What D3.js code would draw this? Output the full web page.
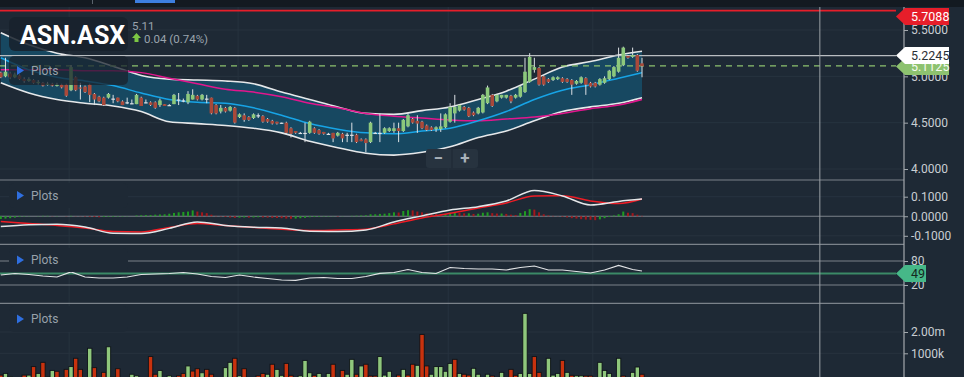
<!DOCTYPE html>
<html>
<head>
<meta charset="utf-8">
<script src="https://cdn.jsdelivr.net/npm/d3@7"></script>
<style>
  html, body { margin:0; padding:0; background:#1e2935; overflow:hidden; }
  svg { display:block; font-family: Roboto, "Noto Sans", sans-serif; }
</style>
</head>
<body>
<div id="chart"></div>
<script>
// ASN.ASX – candles + bands, MACD, RSI, volume

// [open, high, low, close] per session
const ohlc = [
  [5.04,5.05,4.98,4.99],[5.00,5.20,4.99,5.05],[5.03,5.05,4.97,4.99],[4.99,5.04,4.98,5.02],[5.01,5.02,4.96,4.97],
  [4.97,4.99,4.93,4.95],[4.95,4.99,4.94,4.97],[4.96,4.97,4.92,4.93],[4.93,4.96,4.91,4.94],[4.93,4.94,4.89,4.90],
  [4.91,4.94,4.90,4.92],[4.92,4.93,4.89,4.90],[4.90,4.93,4.89,4.91],[4.91,4.92,4.87,4.88],[4.91,4.92,4.78,4.79],
  [4.85,5.12,4.84,5.10],[4.99,5.00,4.84,4.85],[4.88,4.93,4.75,4.87],[4.89,4.90,4.82,4.83],[4.91,4.92,4.72,4.80],
  [4.81,4.82,4.69,4.75],[4.78,4.79,4.72,4.73],[4.77,4.78,4.68,4.69],[4.77,4.82,4.76,4.81],[4.76,4.80,4.71,4.76],
  [4.77,4.77,4.72,4.73],[4.73,4.74,4.69,4.69],[4.72,4.77,4.70,4.72],[4.71,4.75,4.70,4.71],[4.70,4.81,4.70,4.80],
  [4.77,4.78,4.68,4.68],[4.72,4.75,4.71,4.72],[4.72,4.73,4.68,4.69],[4.72,4.73,4.65,4.66],[4.69,4.76,4.67,4.74],
  [4.70,4.70,4.68,4.68],[4.69,4.70,4.68,4.69],[4.70,4.81,4.70,4.80],[4.75,4.82,4.69,4.75],[4.74,4.76,4.72,4.74],
  [4.72,4.84,4.70,4.81],[4.75,4.86,4.75,4.80],[4.79,4.80,4.74,4.75],[4.75,4.81,4.74,4.80],[4.76,4.80,4.71,4.76],
  [4.77,4.77,4.59,4.60],[4.69,4.70,4.59,4.60],[4.62,4.69,4.60,4.66],[4.66,4.67,4.61,4.62],[4.63,4.68,4.62,4.67],
  [4.66,4.67,4.49,4.50],[4.56,4.60,4.55,4.59],[4.58,4.60,4.51,4.53],[4.56,4.57,4.52,4.53],[4.55,4.60,4.54,4.59],
  [4.58,4.60,4.55,4.58],[4.57,4.58,4.50,4.51],[4.54,4.55,4.50,4.51],[4.52,4.53,4.48,4.49],[4.51,4.51,4.48,4.49],
  [4.50,4.50,4.49,4.50],[4.50,4.51,4.38,4.39],[4.44,4.45,4.34,4.38],[4.41,4.41,4.38,4.39],[4.39,4.40,4.38,4.39],
  [4.39,4.50,4.29,4.39],[4.39,4.52,4.38,4.51],[4.44,4.45,4.38,4.39],[4.42,4.43,4.37,4.38],[4.40,4.40,4.37,4.38],
  [4.38,4.39,4.37,4.38],[4.39,4.39,4.29,4.33],[4.36,4.40,4.35,4.39],[4.38,4.39,4.29,4.33],[4.37,4.39,4.29,4.37],
  [4.37,4.50,4.29,4.37],[4.37,4.38,4.28,4.29],[4.32,4.33,4.30,4.30],[4.32,4.33,4.18,4.28],[4.29,4.51,4.28,4.50],
  [4.39,4.40,4.38,4.39],[4.39,4.60,4.29,4.39],[4.39,4.45,4.38,4.44],[4.41,4.45,4.40,4.44],[4.41,4.50,4.39,4.44],
  [4.44,4.50,4.29,4.41],[4.41,4.54,4.40,4.53],[4.46,4.60,4.45,4.58],[4.54,4.55,4.49,4.50],[4.52,4.58,4.39,4.49],
  [4.51,4.52,4.43,4.44],[4.47,4.48,4.41,4.42],[4.45,4.46,4.41,4.42],[4.43,4.46,4.40,4.45],[4.43,4.60,4.40,4.46],
  [4.45,4.60,4.44,4.59],[4.51,4.71,4.50,4.67],[4.60,4.80,4.50,4.67],[4.63,4.70,4.62,4.69],[4.67,4.68,4.63,4.64],
  [4.66,4.67,4.56,4.57],[4.61,4.62,4.57,4.58],[4.60,4.67,4.59,4.66],[4.61,4.81,4.60,4.80],[4.71,4.90,4.70,4.88],
  [4.80,4.81,4.67,4.68],[4.73,4.81,4.72,4.80],[4.77,4.80,4.76,4.80],[4.77,4.80,4.76,4.80],[4.79,4.80,4.71,4.73],
  [4.77,4.81,4.76,4.80],[4.78,4.90,4.77,4.89],[4.83,5.20,4.82,5.05],[4.94,5.25,4.93,5.21],[5.07,5.20,5.04,5.10],
  [5.09,5.10,4.90,4.91],[5.00,5.01,4.90,4.91],[4.97,4.98,4.93,4.94],[4.96,5.00,4.95,4.99],[4.97,5.00,4.96,4.99],
  [4.98,4.99,4.93,4.94],[4.97,4.98,4.93,4.94],[4.96,4.97,4.80,4.91],[4.92,4.96,4.91,4.95],[4.93,5.00,4.92,4.99],
  [4.98,4.99,4.80,4.91],[4.93,4.94,4.88,4.89],[4.93,4.94,4.88,4.89],[4.91,4.98,4.90,4.97],[4.93,5.00,4.92,4.98],
  [4.97,5.07,4.96,5.06],[5.00,5.11,4.99,5.10],[5.05,5.31,5.04,5.20],[5.12,5.32,5.11,5.31],[5.22,5.23,5.19,5.20],
  [5.21,5.31,5.20,5.23],[5.23,5.24,5.05,5.06],[5.14,5.20,4.99,5.11]
];

// volume in millions, and up/down flag per bar
const volume = [
  0.23,0.31,0.15,0.10,0.10,0.23,0.23,0.63,0.31,0.83, 0.15,0.45,0.41,0.10,0.50,0.63,1.02,0.50,0.10,1.49,
  0.58,0.10,0.36,1.56,0.15,0.53,0.10,0.10,0.27,0.20, 0.10,0.10,1.10,0.27,0.45,0.10,0.20,0.10,0.20,0.31,
  0.66,0.42,0.53,0.34,0.50,0.27,0.10,0.10,0.58,0.83, 1.02,0.20,0.53,0.10,0.10,0.20,0.31,0.27,0.74,0.50,
  0.22,0.78,0.22,0.10,0.20,0.92,0.34,0.22,0.31,0.10, 0.31,0.74,0.10,0.45,0.27,0.97,0.27,0.66,0.74,0.19,
  0.19,1.10,0.23,0.41,0.10,0.23,0.50,0.23,0.74,0.69, 2.14,0.66,0.27,0.63,0.63,0.41,0.78,0.97,0.31,0.27,
  0.23,0.55,0.27,0.10,0.27,0.19,0.10,0.36,0.10,0.50, 0.22,0.31,3.13,0.31,1.10,0.36,0.10,1.02,0.23,0.31,
  0.92,0.36,0.22,0.20,0.20,0.19,0.19,0.10,0.83,0.45, 0.31,0.10,1.02,0.19,0.10,0.36,0.61,0.27
];
const volDir = "duuuududud" + "uudddudddu" + "ddduudduuu" + "uddduuuudd" + "uddudddduu" +
               "dudddddudu" + "uddduuuduu" + "uddduududd" + "duuuududdu" + "dduuuuudud" +
               "duuuuduuud" + "duuuddduuu" + "duduuddduu" + "uuudduud";

// overlays sampled at these session indexes
const bandIdx = [0,6,12,18,24,30,36,42,48,54,60,66,72,78,84,90,96,102,108,114,120,126,132,137];
const bandUpper = [5.47,5.34,5.25,5.20,5.11,5.01,4.97,4.96,4.95,4.92,4.83,4.75,4.67,4.60,4.59,4.63,4.67,4.75,4.84,4.97,5.10,5.16,5.23,5.27];
const bandLower = [4.93,4.82,4.75,4.71,4.68,4.62,4.51,4.49,4.47,4.44,4.39,4.30,4.23,4.17,4.15,4.18,4.24,4.34,4.41,4.52,4.62,4.67,4.71,4.77];
const bandMid   = [5.20,5.07,4.99,4.95,4.90,4.82,4.75,4.72,4.71,4.66,4.58,4.49,4.43,4.39,4.38,4.41,4.44,4.52,4.62,4.75,4.85,4.91,4.98,5.04];
const maSlow    = [5.07,5.07,5.07,5.06,5.06,5.04,4.98,4.92,4.86,4.83,4.78,4.71,4.66,4.60,4.57,4.55,4.53,4.52,4.54,4.56,4.60,4.65,4.69,4.75];

const macdLine   = [-0.053,-0.044,-0.041,-0.055,-0.087,-0.088,-0.062,-0.029,-0.047,-0.056,-0.060,-0.077,-0.078,-0.070,-0.029,0.002,0.032,0.049,0.078,0.132,0.104,0.058,0.076,0.088];
const signalLine = [-0.027,-0.037,-0.047,-0.060,-0.078,-0.080,-0.057,-0.037,-0.047,-0.057,-0.067,-0.073,-0.070,-0.066,-0.039,-0.009,0.015,0.042,0.068,0.104,0.105,0.078,0.065,0.088];
const macdHist = [
  -0.014,-0.012,-0.010,-0.007,-0.004,-0.002,-0.001,0.000,0.001,0.002,
  0.002,0.001,0.001,0.000,-0.001,0.002,0.001,-0.001,-0.002,-0.003,
  -0.004,-0.005,-0.004,-0.003,-0.003,-0.002,-0.002,-0.001,0.000,0.004,
  0.005,0.006,0.006,0.008,0.009,0.010,0.013,0.017,0.020,0.022,
  0.024,0.030,0.024,0.020,0.016,0.008,0.002,-0.002,-0.004,-0.006,
  -0.008,-0.007,-0.006,-0.007,-0.006,-0.005,-0.006,-0.007,-0.008,-0.009,
  -0.010,-0.012,-0.013,-0.012,-0.010,-0.008,-0.005,-0.004,-0.003,-0.002,
  -0.002,-0.001,-0.002,-0.001,0.000,0.002,0.003,0.004,0.005,0.010,
  0.010,0.012,0.013,0.016,0.020,0.019,0.027,0.031,0.030,0.024,
  0.020,0.015,0.013,0.011,0.010,0.012,0.018,0.020,0.017,0.015,
  0.015,0.012,0.013,0.018,0.020,0.016,0.014,0.014,0.012,0.008,
  0.006,0.017,0.026,0.036,0.034,0.020,0.010,0.004,0.002,0.001,
  -0.003,-0.006,-0.010,-0.012,-0.015,-0.017,-0.018,-0.020,-0.016,-0.010,
  -0.004,0.004,0.010,0.024,0.018,0.016,0.008,0.002
];

// RSI every 3rd session (last one = 137)
const rsiIdx = d3.range(0,136,3).concat([137]);
const rsi = [45,48.75,46.25,42.5,40,52.5,40,37.5,37.5,40,46.25,47.5,48.75,51.25,47.5,41.25,38.75,45,40,36.25,
             32.5,31.75,37.5,38.75,36.25,36.25,41.25,49.25,51.25,58.75,51.25,48.75,63.75,61.25,60,60,57.5,63.75,
             67.5,57.5,57.5,53.75,50,57.5,68.75,58.75,55];

const priceTicks = [4, 4.5, 5, 5.5];
const macdTicks  = [-0.1, 0, 0.1];
const rsiTicks   = [20, 80];
const volTicks   = [1, 2];
const volTickLabels = ["1000k", "2.00m"];
const monthBreaks = [14.6, 50.7, 95.6, 126.5];
const crossIdx = 175;

const lastHigh = 5.7088, bandTop = 5.2245, lastClose = 5.1125, rsiLast = 49;

// ---------- layout ----------
const W = 964, H = 377, AX = 904, TAGX = 896;
const C = {
  bg:"#1e2935", grid:"#27333f", sep:"#7b828a", axis:"#a3a8ad", label:"#c9ced3",
  up:"#8cc87c", down:"#a9493a", wick:"#dde1e5",
  vUp:"#8fc77c", vDown:"#c8320e"
};

const x   = d3.scaleLinear().domain([0,137]).range([0.8,642]);
const yP  = d3.scaleLinear().domain([4,5.5]).range([169,30]);
const yM  = d3.scaleLinear().domain([-0.1,0.1]).range([235.8,196.7]);
const yR  = d3.scaleLinear().domain([20,80]).range([285,261]);
const yV  = d3.scaleLinear().domain([0,1]).range([380,358.7]);
const yVt = d3.scaleLinear().domain([1,2]).range([353.3,332]);

const svg = d3.select("#chart").append("svg").attr("width",W).attr("height",H);
svg.append("rect").attr("width",W).attr("height",H).attr("fill",C.bg);

const clip = svg.append("defs").append("clipPath").attr("id","pclip");
clip.append("rect").attr("x",0).attr("y",7).attr("width",AX).attr("height",173);

// faint grid
const grid = svg.append("g").attr("stroke",C.grid).attr("stroke-width",1);
grid.selectAll(".gx").data(monthBreaks).join("line")
  .attr("x1",d=>x(d)).attr("x2",d=>x(d)).attr("y1",7).attr("y2",H);
grid.selectAll(".gp").data(priceTicks).join("line").attr("class","gp")
  .attr("x1",0).attr("x2",AX).attr("y1",d=>yP(d)).attr("y2",d=>yP(d));
grid.selectAll(".gm").data([-0.1,0.1]).join("line").attr("class","gm")
  .attr("x1",0).attr("x2",AX).attr("y1",d=>yM(d)).attr("y2",d=>yM(d));
grid.selectAll(".gv").data(volTicks).join("line").attr("class","gv")
  .attr("x1",0).attr("x2",AX).attr("y1",d=>yVt(d)).attr("y2",d=>yVt(d));

// panel separators + reference levels
const seps = [180, yM(0), 244.3, yR(80), yR(20), 303.3];
svg.append("g").selectAll("line").data(seps).join("line")
  .attr("x1",0).attr("x2",AX).attr("y1",d=>d).attr("y2",d=>d)
  .attr("stroke",C.sep).attr("stroke-width",1.2);

// ---------- price panel ----------
const pg = svg.append("g").attr("clip-path","url(#pclip)");
const bands = bandIdx.map((i,k)=>({i, hi:bandUpper[k], lo:bandLower[k], mid:bandMid[k], ma:maSlow[k]}));

pg.append("path").datum(bands)
  .attr("d", d3.area().x(d=>x(d.i)).y0(d=>yP(d.lo)).y1(d=>yP(d.hi)).curve(d3.curveMonotoneX))
  .attr("fill","#174861");

const bandLine = key => d3.line().x(d=>x(d.i)).y(d=>yP(d[key])).curve(d3.curveMonotoneX);
pg.append("path").datum(bands).attr("d",bandLine("hi")).attr("fill","none").attr("stroke","#e6e8ea").attr("stroke-width",1.6);
pg.append("path").datum(bands).attr("d",bandLine("lo")).attr("fill","none").attr("stroke","#e6e8ea").attr("stroke-width",1.6);
pg.append("path").datum(bands).attr("d",bandLine("ma")).attr("fill","none").attr("stroke","#e2168e").attr("stroke-width",1.5);
pg.append("path").datum(bands).attr("d",bandLine("mid")).attr("fill","none").attr("stroke","#17a4e6").attr("stroke-width",1.5);

// horizontal price lines
pg.append("line").attr("x1",0).attr("x2",TAGX).attr("y1",yP(lastHigh)).attr("y2",yP(lastHigh))
  .attr("stroke","#e61e2a").attr("stroke-width",1.6);
pg.append("line").attr("x1",0).attr("x2",TAGX).attr("y1",yP(bandTop)).attr("y2",yP(bandTop))
  .attr("stroke","#b9bdc1").attr("stroke-width",1.2);
pg.append("line").attr("x1",0).attr("x2",TAGX).attr("y1",yP(lastClose)).attr("y2",yP(lastClose))
  .attr("stroke","#8dc26f").attr("stroke-width",1.2).attr("stroke-dasharray","6,5");

// candles
const cd = ohlc.map((r,i)=>({i, o:r[0], h:r[1], l:r[2], c:r[3]}));
const cg = pg.append("g");
cg.selectAll("line").data(cd).join("line")
  .attr("x1",d=>x(d.i)).attr("x2",d=>x(d.i))
  .attr("y1",d=>yP(d.h)).attr("y2",d=>yP(d.l))
  .attr("stroke",C.wick).attr("stroke-width",1);
cg.selectAll("rect").data(cd).join("rect")
  .attr("x",d=>x(d.i)-1.8).attr("width",3.6)
  .attr("y",d=>yP(Math.max(d.o,d.c)))
  .attr("height",d=>Math.max(1.2, Math.abs(yP(d.o)-yP(d.c))))
  .attr("fill",d=>d.c===d.o ? C.wick : (d.c>d.o ? C.up : C.down));

// ---------- MACD ----------
const md = bandIdx.map((i,k)=>({i, m:macdLine[k], s:signalLine[k]}));
svg.append("g").selectAll("rect").data(macdHist).join("rect")
  .attr("x",(d,i)=>x(i)-1).attr("width",2)
  .attr("y",d=>yM(Math.max(0,d)))
  .attr("height",d=>Math.abs(yM(d)-yM(0)))
  .attr("fill",(d,i)=> (i===0 || d>=macdHist[i-1]) ? "#1f9b22" : "#a3171b");
svg.append("path").datum(md)
  .attr("d",d3.line().x(d=>x(d.i)).y(d=>yM(d.s)).curve(d3.curveMonotoneX))
  .attr("fill","none").attr("stroke","#ee1c25").attr("stroke-width",1.5);
svg.append("path").datum(md)
  .attr("d",d3.line().x(d=>x(d.i)).y(d=>yM(d.m)).curve(d3.curveMonotoneX))
  .attr("fill","none").attr("stroke","#e4e6e8").attr("stroke-width",1.5);

// ---------- RSI ----------
svg.append("line").attr("x1",0).attr("x2",TAGX).attr("y1",yR(rsiLast)).attr("y2",yR(rsiLast))
  .attr("stroke","#3b8a67").attr("stroke-width",2);
svg.append("path").datum(rsiIdx.map((i,k)=>({i, v:rsi[k]})))
  .attr("d",d3.line().x(d=>x(d.i)).y(d=>yR(d.v)))
  .attr("fill","none").attr("stroke","#e2e4e6").attr("stroke-width",1.2);

// ---------- Volume ----------
svg.append("g").selectAll("rect").data(volume).join("rect")
  .attr("x",(d,i)=>x(i)-2.2).attr("width",4.4)
  .attr("y",d=>yV(d)).attr("height",d=>yV(0)-yV(d))
  .attr("fill",(d,i)=>volDir[i]==="u" ? C.vUp : C.vDown)
  .attr("stroke","#0e1318").attr("stroke-width",0.9);

// ---------- crosshair + right axis ----------
svg.append("line").attr("x1",x(crossIdx)).attr("x2",x(crossIdx)).attr("y1",7).attr("y2",H)
  .attr("stroke","#9aa0a6").attr("stroke-width",1);
svg.append("line").attr("x1",AX).attr("x2",AX).attr("y1",7).attr("y2",H)
  .attr("stroke",C.axis).attr("stroke-width",1.2);

function rightAxis(scale, ticks, fmt){
  svg.append("g").attr("transform",`translate(${AX},0)`)
    .call(d3.axisRight(scale).tickValues(ticks).tickSize(4).tickPadding(3).tickFormat(fmt))
    .attr("font-size",12).attr("font-family","Roboto, 'Noto Sans', sans-serif")
    .call(g=>g.select(".domain").remove())
    .call(g=>g.selectAll(".tick line").attr("stroke",C.axis))
    .call(g=>g.selectAll(".tick text").attr("fill",C.label));
}
rightAxis(yP, priceTicks, d=>d.toFixed(4));
rightAxis(yM, macdTicks, d=>d.toFixed(4));
rightAxis(yR, rsiTicks, d=>String(d));
rightAxis(yVt, volTicks, (d,i)=>volTickLabels[i]);

// value tags
function tag(yc, text, fill, txt, right){
  const h = 8.5;
  svg.append("path")
    .attr("d",`M${TAGX},${yc} L${TAGX+9},${yc-h} L${right},${yc-h} L${right},${yc+h} L${TAGX+9},${yc+h} Z`)
    .attr("fill",fill);
  svg.append("text").attr("x",911).attr("y",yc+4.3).attr("font-size",12.5)
    .attr("fill",txt).text(text);
}
tag(Math.max(yP(lastHigh), 16.5), lastHigh.toFixed(4), "#e61e2a", "#ffffff", 949);
tag(yP(lastClose)+0.6, lastClose.toFixed(4), "#8dc26f", "#f4fbf0", 949);
tag(yP(bandTop), bandTop.toFixed(4), "#ffffff", "#2a2f35", 949);
tag(yR(rsiLast), String(rsiLast), "#46b888", "#15291f", 926);

// ---------- overlays ----------
svg.append("rect").attr("x",9).attr("y",17).attr("width",119).attr("height",34).attr("rx",6)
  .attr("fill","#18212b").attr("opacity",0.85);
svg.append("text").attr("x",20).attr("y",44).attr("font-size",25).attr("font-weight","bold")
  .attr("fill","#ffffff").text("ASN.ASX");
svg.append("text").attr("x",132).attr("y",30).attr("font-size",11.5).attr("fill","#9aa4ad").text("5.11");
svg.append("path").attr("d","M136.5,33 L141,38 L138.5,38 L138.5,42 L134.5,42 L134.5,38 L132,38 Z").attr("fill","#7cc644");
svg.append("text").attr("x",144).attr("y",43).attr("font-size",11.5).attr("fill","#9aa4ad").text("0.04 (0.74%)");

function plotsBox(y0, h, fill, opacity){
  svg.append("rect").attr("x",9).attr("y",y0).attr("width",119).attr("height",h).attr("rx",5)
    .attr("fill",fill).attr("opacity",opacity);
  const yc = y0 + h/2;
  svg.append("path").attr("d",`M17,${yc-4.5} L24,${yc} L17,${yc+4.5} Z`).attr("fill","#2f6fe0");
  svg.append("text").attr("x",31).attr("y",yc+4.3).attr("font-size",12).attr("fill","#98a1aa").text("Plots");
}
plotsBox(56, 29, "#1a232d", 0.75);
plotsBox(183, 25, C.bg, 1);
plotsBox(248, 24, C.bg, 1);
plotsBox(306, 26, C.bg, 1);

// zoom buttons
svg.append("rect").attr("x",426).attr("y",149).attr("width",52).attr("height",19).attr("rx",3).attr("fill","#27333f");
svg.append("line").attr("x1",452).attr("x2",452).attr("y1",149).attr("y2",168).attr("stroke","#1e2935");
svg.append("text").attr("x",438.5).attr("y",164).attr("text-anchor","middle").attr("font-size",17)
  .attr("font-weight","bold").attr("fill","#a9b1b9").text("−");
svg.append("text").attr("x",465).attr("y",164).attr("text-anchor","middle").attr("font-size",17)
  .attr("font-weight","bold").attr("fill","#a9b1b9").text("+");

// top strip
svg.append("rect").attr("x",0).attr("y",0).attr("width",W).attr("height",7).attr("fill","#131a21");
svg.append("rect").attr("x",135).attr("y",0).attr("width",40).attr("height",3).attr("fill","#3d7fe0");
svg.append("line").attr("x1",92.5).attr("x2",92.5).attr("y1",0).attr("y2",4).attr("stroke","#5a636c");
</script>
</body>
</html>
